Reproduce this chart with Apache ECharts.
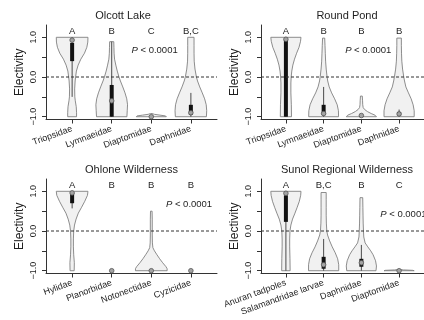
<!DOCTYPE html>
<html>
<head>
<meta charset="utf-8">
<script src="https://cdn.jsdelivr.net/npm/echarts@6/dist/echarts.min.js"></script>
<style>
  html, body { margin: 0; padding: 0; background: #fff; }
  #chart { width: 424px; height: 320px; }
</style>
</head>
<body>
<div id="chart"></div>
<script>
// ---- Prey electivity by site ----
const siteNames = ['Olcott Lake', 'Round Pond', 'Ohlone Wilderness', 'Sunol Regional Wilderness'];
const pLabels = ['P < 0.0001', 'P < 0.0001', 'P < 0.0001', 'P < 0.0001'];

const yTickValues = [-1, -0.5, 0, 0.5, 1];
const yLabelValues = [-1, 0, 1];

// Olcott Lake
const olcottTaxa = ['Triopsidae', 'Lymnaeidae', 'Diaptomidae', 'Daphnidae'];
const olcottLetters = ['A', 'B', 'C', 'B,C'];
// density profiles: [electivity, relative density]
const olcottShapes = [
  [[-1, 0.28], [-0.9, 0.28], [-0.75, 0.26], [-0.6, 0.2], [-0.5, 0.17], [-0.3, 0.16], [-0.1, 0.19], [0, 0.22], [0.15, 0.27], [0.3, 0.38], [0.45, 0.55], [0.6, 0.78], [0.75, 0.93], [0.88, 0.99], [1, 1]],
  [[-1, 0.96], [-0.85, 0.98], [-0.7, 1], [-0.55, 0.95], [-0.4, 0.84], [-0.25, 0.7], [-0.1, 0.55], [0, 0.46], [0.15, 0.35], [0.3, 0.26], [0.45, 0.18], [0.6, 0.15], [0.75, 0.14], [0.89, 0.13]],
  [[-1, 0.95], [-0.98, 0.9], [-0.96, 0.55], [-0.94, 0.2], [-0.92, 0.05]],
  [[-1, 0.98], [-0.85, 1], [-0.7, 0.97], [-0.55, 0.87], [-0.4, 0.72], [-0.25, 0.56], [-0.1, 0.42], [0, 0.35], [0.2, 0.26], [0.4, 0.21], [0.6, 0.2], [0.8, 0.2], [1, 0.2]]
];
// [low whisker, q1, median, q3, high whisker]
const olcottBoxes = [
  [-0.5, 0.4, 0.93, 0.86, 1],
  [-1, -1, -0.6, -0.2, 0.89],
  [-1, -1, -1, -1, -1],
  [-1, -0.95, -0.9, -0.7, -0.4]
];

// Round Pond
const roundTaxa = ['Triopsidae', 'Lymnaeidae', 'Diaptomidae', 'Daphnidae'];
const roundLetters = ['A', 'B', 'B', 'B'];
const roundShapes = [
  [[-1, 0.37], [-0.7, 0.36], [-0.4, 0.33], [-0.15, 0.33], [0, 0.35], [0.15, 0.39], [0.3, 0.46], [0.45, 0.57], [0.6, 0.71], [0.75, 0.87], [0.9, 0.97], [1, 1]],
  [[-1, 0.99], [-0.85, 0.98], [-0.7, 0.9], [-0.55, 0.73], [-0.4, 0.53], [-0.25, 0.37], [-0.1, 0.27], [0, 0.23], [0.2, 0.17], [0.4, 0.13], [0.6, 0.11], [0.8, 0.09], [0.98, 0.07]],
  [[-1, 1], [-0.96, 0.9], [-0.92, 0.65], [-0.87, 0.4], [-0.82, 0.22], [-0.77, 0.12], [-0.7, 0.09], [-0.6, 0.08], [-0.48, 0.06]],
  [[-1, 1], [-0.85, 1], [-0.7, 0.93], [-0.55, 0.8], [-0.4, 0.62], [-0.25, 0.45], [-0.1, 0.36], [0, 0.31], [0.2, 0.23], [0.4, 0.18], [0.6, 0.16], [0.8, 0.15], [0.98, 0.15]]
];
const roundBoxes = [
  [-1, -1, 0.95, 0.95, 1],
  [-1, -0.95, -0.92, -0.7, -0.25],
  [-1, -1, -0.97, -0.97, -0.97],
  [-1, -0.97, -0.93, -0.88, -0.82]
];

// Ohlone Wilderness
const ohloneTaxa = ['Hylidae', 'Planorbidae', 'Notonectidae', 'Cyzicidae'];
const ohloneLetters = ['A', 'B', 'B', 'B'];
const ohloneShapes = [
  [[-1, 0.13], [-0.8, 0.14], [-0.6, 0.1], [-0.4, 0.08], [-0.2, 0.08], [0, 0.1], [0.15, 0.15], [0.3, 0.25], [0.45, 0.39], [0.6, 0.6], [0.75, 0.8], [0.9, 0.97], [1, 1]],
  [],
  [[-1, 1], [-0.95, 1], [-0.9, 0.93], [-0.8, 0.72], [-0.7, 0.53], [-0.6, 0.36], [-0.5, 0.2], [-0.42, 0.1], [-0.3, 0.07], [-0.1, 0.06], [0.1, 0.06], [0.3, 0.06], [0.5, 0.05]],
  []
];
const ohloneBoxes = [
  [0.57, 0.7, 0.96, 0.96, 1],
  [-1, -1, -1, -1, -1],
  [-1, -1, -1, -1, -1],
  [-1, -1, -1, -1, -1]
];

// Sunol Regional Wilderness
const sunolTaxa = ['Anuran tadpoles', 'Salamandridae larvae', 'Daphnidae', 'Diaptomidae'];
const sunolLetters = ['A', 'B,C', 'B', 'C'];
const sunolShapes = [
  [[-1, 0.28], [-0.7, 0.27], [-0.4, 0.25], [-0.2, 0.25], [0, 0.27], [0.15, 0.33], [0.3, 0.44], [0.45, 0.6], [0.6, 0.75], [0.75, 0.89], [0.9, 0.98], [1, 1]],
  [[-1, 1], [-0.85, 1], [-0.7, 0.93], [-0.55, 0.77], [-0.4, 0.57], [-0.25, 0.4], [-0.1, 0.26], [0, 0.21], [0.2, 0.18], [0.4, 0.17], [0.6, 0.17], [0.8, 0.17], [0.97, 0.17]],
  [[-1, 0.97], [-0.88, 1], [-0.75, 0.94], [-0.6, 0.78], [-0.5, 0.62], [-0.4, 0.43], [-0.3, 0.25], [-0.15, 0.16], [0, 0.14], [0.2, 0.12], [0.4, 0.11], [0.6, 0.1], [0.84, 0.09]],
  [[-1, 1], [-0.99, 0.9], [-0.98, 0.3], [-0.97, 0.05]]
];
const sunolBoxes = [
  [-1, 0.23, 0.95, 0.9, 1],
  [-1, -0.95, -0.85, -0.65, -0.2],
  [-1, -0.9, -0.8, -0.7, -0.35],
  [-1, -1, -1, -1, -1]
];

// ---- layout ----
const FONT = '"Liberation Sans", Arial, Helvetica, sans-serif';
const TEXT = '#1e1e1e';
const AXIS = '#333';
const panels = [
  { taxa: olcottTaxa, letters: olcottLetters, shapes: olcottShapes, boxes: olcottBoxes, left: 46, top: 25, titleX: 123, pAt: [2.5, 0.675] },
  { taxa: roundTaxa, letters: roundLetters, shapes: roundShapes, boxes: roundBoxes, left: 261, top: 25, titleX: 347, pAt: [2.57, 0.675] },
  { taxa: ohloneTaxa, letters: ohloneLetters, shapes: ohloneShapes, boxes: ohloneBoxes, left: 46, top: 179, titleX: 131.5, pAt: [3.37, 0.67] },
  { taxa: sunolTaxa, letters: sunolLetters, shapes: sunolShapes, boxes: sunolBoxes, left: 261, top: 179, titleX: 347, pAt: [3.5, 0.42] }
];
const GRID_W = 171, GRID_H = 94.5;
const X_MIN = 0.34, X_MAX = 4.66, Y_MIN = -1.07, Y_MAX = 1.31;
const HALF_WIDTH = 0.4;   // widest violin half-width, in category units
const LETTER_Y = 1.15;

function fmtTick(v) {
  return (v < 0 ? '\u2212' : '') + Math.abs(v).toFixed(1);
}

function violinItem(shapes, boxes) {
  return function (params, api) {
    const i = params.dataIndex;
    const cx = i + 1;
    const prof = shapes[i];
    const [lo, q1, med, q3, hi] = boxes[i];
    const children = [];
    if (prof.length) {
      const right = prof.map(([e, w]) => api.coord([cx + w * HALF_WIDTH, e]));
      const left = prof.slice().reverse().map(([e, w]) => api.coord([cx - w * HALF_WIDTH, e]));
      children.push({
        type: 'polygon',
        shape: { points: right.concat(left) },
        style: { fill: '#f1f1f1', stroke: '#808080', lineWidth: 0.9, lineJoin: 'round' }
      });
    }
    const a = api.coord([cx, lo]), b = api.coord([cx, hi]);
    children.push({ type: 'line', shape: { x1: a[0], y1: a[1], x2: b[0], y2: b[1] }, style: { stroke: '#4a4a4a', lineWidth: 1 } });
    if (q3 > q1) {
      const c = api.coord([cx, q1]), d = api.coord([cx, q3]);
      children.push({ type: 'line', shape: { x1: c[0], y1: c[1], x2: d[0], y2: d[1] }, style: { stroke: '#111', lineWidth: 4 } });
    }
    const m = api.coord([cx, med]);
    children.push({ type: 'circle', shape: { cx: m[0], cy: m[1], r: 2.3 }, style: { fill: '#a3a3a3', stroke: '#555', lineWidth: 0.8 } });
    return { type: 'group', children };
  };
}

const option = {
  animation: false,
  backgroundColor: '#fff',
  title: panels.map((p, g) => ({
    text: siteNames[g],
    left: p.titleX,
    top: p.top - 15,
    textAlign: 'center',
    padding: 0,
    textStyle: { fontFamily: FONT, fontSize: 11, fontWeight: 'normal', color: TEXT }
  })),
  grid: panels.map(p => ({ left: p.left, top: p.top, width: GRID_W, height: GRID_H })),
  xAxis: panels.map((p, g) => ({
    type: 'value', gridIndex: g, min: X_MIN, max: X_MAX,
    splitLine: { show: false },
    axisLine: { show: true, onZero: false, lineStyle: { color: AXIS, width: 1 } },
    axisTick: { show: true, customValues: [1, 2, 3, 4], length: 4, lineStyle: { color: AXIS } },
    axisLabel: {
      customValues: [1, 2, 3, 4],
      formatter: v => p.taxa[Math.round(v) - 1],
      rotate: 20, margin: 9,
      fontFamily: FONT, fontSize: 9, color: TEXT
    }
  })),
  yAxis: panels.map((p, g) => ({
    type: 'value', gridIndex: g, min: Y_MIN, max: Y_MAX,
    splitLine: { show: false },
    axisLine: { show: true, onZero: false, lineStyle: { color: AXIS, width: 1 } },
    axisTick: { show: true, customValues: yTickValues, length: 4, lineStyle: { color: AXIS } },
    axisLabel: {
      customValues: yLabelValues, formatter: fmtTick,
      rotate: 90, margin: 8,
      fontFamily: FONT, fontSize: 9, color: TEXT
    },
    name: 'Electivity', nameLocation: 'middle', nameGap: 20, nameRotate: 90,
    nameTextStyle: { fontFamily: FONT, fontSize: 12, color: TEXT }
  })),
  series: []
};

panels.forEach((p, g) => {
  // violins with inner box
  option.series.push({
    type: 'custom', xAxisIndex: g, yAxisIndex: g, z: 2,
    renderItem: violinItem(p.shapes, p.boxes),
    data: p.taxa.map((t, i) => [i + 1, p.boxes[i][2]]),
    encode: { x: 0, y: 1 }, clip: false, silent: true
  });
  // dashed reference line at zero electivity
  option.series.push({
    type: 'custom', xAxisIndex: g, yAxisIndex: g, z: 3,
    renderItem: (params, api) => {
      const a = api.coord([X_MIN, 0]), b = api.coord([X_MAX, 0]);
      return { type: 'line', shape: { x1: a[0], y1: a[1], x2: b[0], y2: b[1] }, style: { stroke: '#333', lineWidth: 1, lineDash: [3, 2] } };
    },
    data: [[X_MIN, 0]], encode: { x: 0, y: 1 }, silent: true
  });
  // group letters and test result
  option.series.push({
    type: 'custom', xAxisIndex: g, yAxisIndex: g, z: 4,
    renderItem: (params, api) => {
      const i = params.dataIndex;
      if (i < p.letters.length) {
        const pt = api.coord([i + 1, LETTER_Y]);
        return { type: 'text', x: pt[0], y: pt[1], style: { text: p.letters[i], fill: TEXT, fontFamily: FONT, fontSize: 9.5, align: 'center', verticalAlign: 'middle' } };
      }
      const pt = api.coord(p.pAt);
      const rest = pLabels[g].replace(/^P/, '');
      return {
        type: 'text', x: pt[0], y: pt[1],
        style: {
          text: '{it|P}{n|' + rest + '}', align: 'left', verticalAlign: 'middle',
          fill: TEXT, fontFamily: FONT, fontSize: 9.5,
          rich: {
            it: { fontStyle: 'italic', fontFamily: FONT, fontSize: 9.5, fill: TEXT },
            n: { fontFamily: FONT, fontSize: 9.5, fill: TEXT }
          }
        }
      };
    },
    data: p.letters.map((l, i) => [i + 1, LETTER_Y]).concat([p.pAt]),
    encode: { x: 0, y: 1 }, clip: false, silent: true
  });
});

const chart = echarts.init(document.getElementById('chart'), null, { renderer: 'canvas' });
chart.setOption(option);
</script>
</body>
</html>
